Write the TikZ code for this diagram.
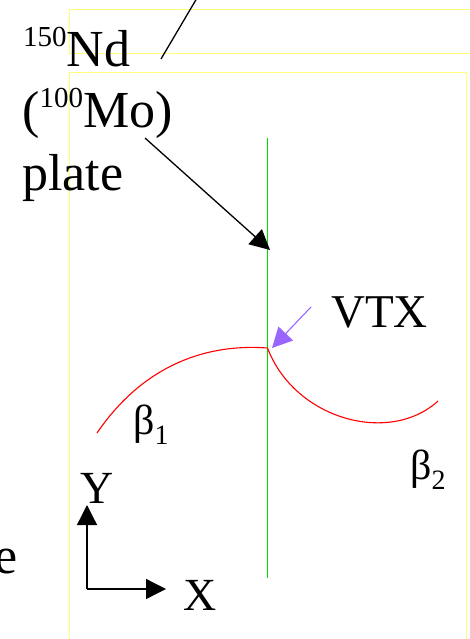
\documentclass[tikz,border=0pt]{standalone}
\usepackage{fontspec}
\setmainfont{Liberation Serif}
\usetikzlibrary{arrows.meta}
\newcommand\iso[1]{\raisebox{20pt}{\fontsize{29}{29}\selectfont #1}}
\newcommand\sbs[1]{\raisebox{-10pt}{\fontsize{28}{28}\selectfont #1}}
\definecolor{vtxpurple}{RGB}{153,102,255}
\definecolor{plategreen}{RGB}{0,220,0}
\definecolor{framey}{RGB}{255,255,120}
\begin{document}
\begin{tikzpicture}[x=1pt, y=-1pt,
  big/.style={font=\fontsize{52}{52}\selectfont, inner sep=0pt, anchor=base west},
  beta/.style={font=\fontsize{42}{42}\selectfont, inner sep=0pt, anchor=base west},
  frame/.style={draw=framey, line width=1.1pt},
  track/.style={red, line width=1.1pt},
  pointer/.style={line width=1.3pt, -{Triangle[length=20pt,width=20pt]}}]
\clip (0,0) rectangle (470,639);
% yellow frames
\draw[frame] (480,9.5)--(69.5,9.5)--(69.5,53.5)--(480,53.5);
\draw[frame] (69.5,650)--(69.5,72.5)--(466.5,72.5)--(466.5,650);
% labels on the left
\node[big] (nd) at (23,67) {\iso{150}Nd};
\node[big] (mo) at (22,128) {(\iso{100}Mo)};
\node[big] (plate) at (22,190) {plate};
\node[big] (cut) at (-6,573) {e};
% plate (green) and tracks (red)
\coordinate (plateT) at (267.5,138); \coordinate (plateB) at (267.5,578);
\draw[plategreen, line width=1.2pt] (plateT)--(plateB);
\coordinate (vtx) at (267.5,348);
\coordinate (b1) at (97,433); \coordinate (b2) at (438,401);
\draw[track] (b1) .. controls (140,370) and (200,343) .. (vtx);
\draw[track] (vtx) .. controls (295,420) and (390,445) .. (b2);
\node[beta] (beta1) at (133,434) {β\sbs{1}};
\node[beta] (beta2) at (410,479) {β\sbs{2}};
% pointers
\coordinate (upA) at (161,59); \coordinate (upB) at (197,-2);
\draw[line width=1.3pt] (upA)--(upB);
\coordinate (moA) at (145,138); \coordinate (moB) at (270,250);
\draw[pointer] (moA)--(moB);
\node[big, font=\fontsize{47}{47}\selectfont] (vtxlbl) at (331,327) {VTX};
\coordinate (vA) at (311,307); \coordinate (vB) at (272,348);
\draw[pointer, vtxpurple, line width=1.1pt] (vA)--(vB);
% axes
\coordinate (O) at (87,589);
\coordinate (Ytip) at (87,505); \coordinate (Xtip) at (166,589);
\draw[line width=1.3pt, -{Triangle[length=20pt,width=20pt]}] (O)--(Ytip);
\draw[line width=1.3pt, -{Triangle[length=20pt,width=20pt]}] (O)--(Xtip);
\node[big, font=\fontsize{46}{46}\selectfont] (ylbl) at (80,503) {Y};
\node[big, font=\fontsize{46}{46}\selectfont] (xlbl) at (183,610) {X};
\end{tikzpicture}
\end{document}
